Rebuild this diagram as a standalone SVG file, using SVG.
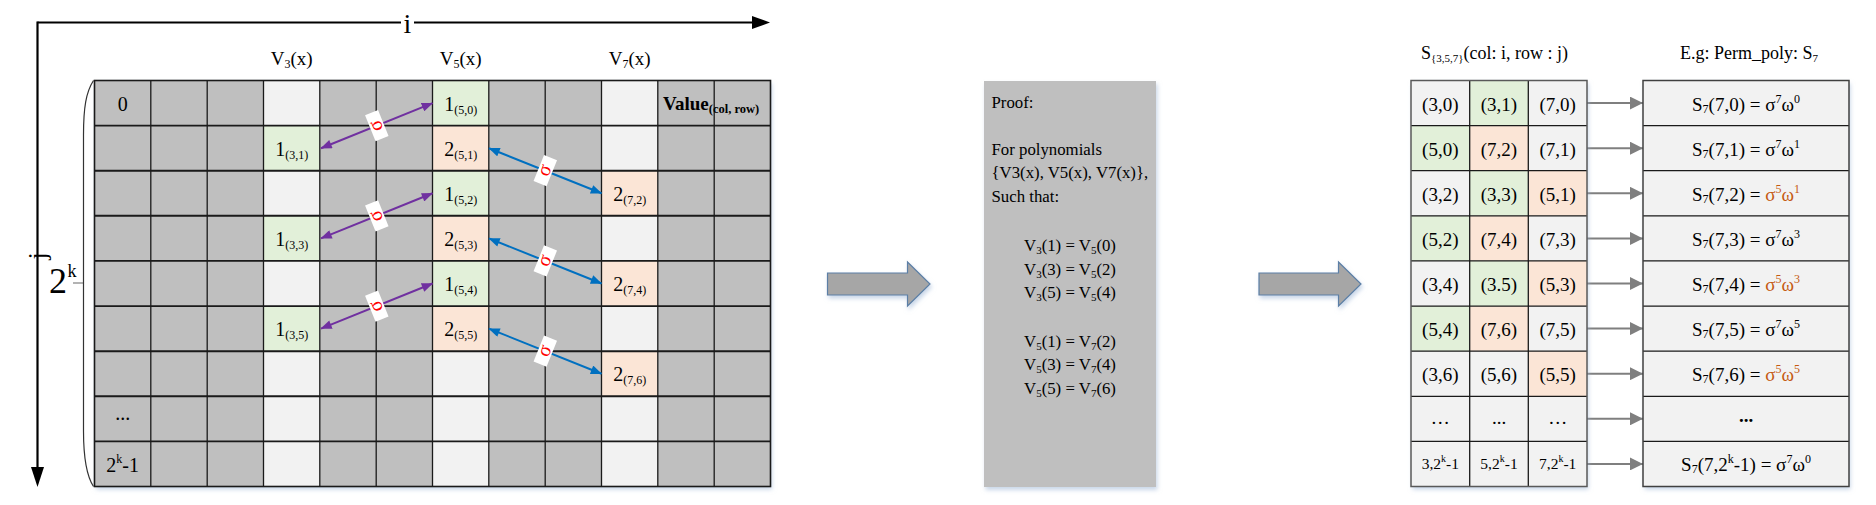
<svg xmlns="http://www.w3.org/2000/svg" width="1876" height="505" viewBox="0 0 1876 505">
<style>
text { font-family: "Liberation Serif", "Times New Roman", serif; fill: #000; }
.gy { fill: #BFBFBF; }
.lt { fill: #F2F2F2; }
.gn { fill: #E2F0D9; }
.pc { fill: #FBE5D6; }
.c { font-size: 20px; text-anchor: middle; }
.hd { font-size: 19px; text-anchor: middle; }
.rt { font-size: 19px; text-anchor: middle; }
.sb { font-size: 12px; }
.sp { font-size: 12px; }
.pf { font-size: 16.8px; }
.sig { font-size: 20px; fill: #FF0000; text-anchor: middle; }
.lab { fill: #FFFFFF; }
.gl { fill: none; stroke: #1a1a1a; }
.or { fill: #C55A11; }
.pa { stroke: #7030A0; stroke-width: 2; fill: none; }
.ba { stroke: #0070C0; stroke-width: 2; fill: none; }
.ga { stroke: #7F7F7F; stroke-width: 2; fill: none; }
.blk { fill: #A6A6A6; stroke: #5B7FA6; stroke-width: 1.2; }
</style>
<defs>
<filter id="sh" x="-10%" y="-10%" width="130%" height="130%">
<feDropShadow dx="1.5" dy="3" stdDeviation="2" flood-color="#9DB6D6" flood-opacity="0.55"/>
</filter>
<marker id="mp" viewBox="0 0 10 8" markerWidth="12" markerHeight="9" refX="9.5" refY="4" orient="auto-start-reverse" markerUnits="userSpaceOnUse"><path d="M0,0 L10,4 L0,8 z" fill="#7030A0"/></marker>
<marker id="mb" viewBox="0 0 10 8" markerWidth="12" markerHeight="9" refX="9.5" refY="4" orient="auto-start-reverse" markerUnits="userSpaceOnUse"><path d="M0,0 L10,4 L0,8 z" fill="#0070C0"/></marker>
<marker id="mg" viewBox="0 0 10 10" markerWidth="14" markerHeight="13" refX="10" refY="5" orient="auto" markerUnits="userSpaceOnUse"><path d="M0,0 L10,5 L0,10 z" fill="#7F7F7F"/></marker>
</defs>

<g id="axes">
<line x1="37.5" y1="22.5" x2="754" y2="22.5" stroke="#000" stroke-width="2.2"/>
<polygon points="752,16 770,22.5 752,29" fill="#000"/>
<line x1="37.5" y1="21.4" x2="37.5" y2="468" stroke="#000" stroke-width="2.2"/>
<polygon points="31,467 37.5,487 44,467" fill="#000"/>
<rect x="401" y="10" width="13" height="24" fill="#FFFFFF"/>
<text x="407.5" y="33" font-size="28" text-anchor="middle">i</text>
<text transform="translate(46,256) rotate(-90)" font-size="26" text-anchor="middle">j</text>
<text x="49" y="293" font-size="36">2</text>
<text x="67.5" y="277" font-size="18">k</text>
<line x1="73" y1="283" x2="83" y2="283" stroke="#808080" stroke-width="1.2"/>
<path d="M93.5,80.5 C86,92 83.5,108 83.5,135 L83.5,431 C83.5,458 86,475 93.5,486.5" fill="none" stroke="#333" stroke-width="1.2"/>
</g>

<g id="headers">
<text class="hd" x="291.7" y="65">V<tspan class="sb" dy="3">3</tspan><tspan dy="-3">(x)</tspan></text>
<text class="hd" x="460.7" y="65">V<tspan class="sb" dy="3">5</tspan><tspan dy="-3">(x)</tspan></text>
<text class="hd" x="629.7" y="65">V<tspan class="sb" dy="3">7</tspan><tspan dy="-3">(x)</tspan></text>
</g>

<g id="grid">
<rect class="gy" x="94.5" y="80.5" width="676" height="406" filter="url(#sh)"/>
<rect class="lt" x="263.5" y="80.5" width="56.3" height="406"/>
<rect class="lt" x="432.5" y="80.5" width="56.3" height="406"/>
<rect class="lt" x="601.5" y="80.5" width="56.3" height="406"/>
<rect class="gn" x="263.5" y="125.6" width="56.3" height="45.1"/>
<rect class="gn" x="263.5" y="215.8" width="56.3" height="45.1"/>
<rect class="gn" x="263.5" y="306.1" width="56.3" height="45.1"/>
<rect class="gn" x="432.5" y="80.5" width="56.3" height="45.1"/>
<rect class="gn" x="432.5" y="170.7" width="56.3" height="45.1"/>
<rect class="gn" x="432.5" y="260.9" width="56.3" height="45.1"/>
<rect class="pc" x="432.5" y="125.6" width="56.3" height="45.1"/>
<rect class="pc" x="432.5" y="215.8" width="56.3" height="45.1"/>
<rect class="pc" x="432.5" y="306.1" width="56.3" height="45.1"/>
<rect class="pc" x="601.5" y="170.7" width="56.3" height="45.1"/>
<rect class="pc" x="601.5" y="260.9" width="56.3" height="45.1"/>
<rect class="pc" x="601.5" y="351.2" width="56.3" height="45.1"/>
<path class="gl" stroke-width="1.3" d="M150.8,80.5V486.5M207.2,80.5V486.5M263.5,80.5V486.5M319.8,80.5V486.5M376.2,80.5V486.5M432.5,80.5V486.5M488.8,80.5V486.5M545.2,80.5V486.5M601.5,80.5V486.5M657.8,80.5V486.5M714.2,80.5V486.5"/>
<path class="gl" stroke-width="1.9" d="M94.5,125.6H770.5M94.5,170.7H770.5M94.5,215.8H770.5M94.5,260.9H770.5M94.5,306.1H770.5M94.5,351.2H770.5M94.5,396.3H770.5M94.5,441.4H770.5"/>
<rect class="gl" stroke-width="1.6" x="94.5" y="80.5" width="676" height="406"/>
<text class="c" x="122.7" y="110.5">0</text>
<text class="c" x="122.7" y="420">...</text>
<text class="c" x="122.7" y="471.5">2<tspan class="sp" dy="-9">k</tspan><tspan dy="9">-1</tspan></text>
<text x="663" y="110" font-size="19" font-weight="bold">Value<tspan font-size="12.5" dy="3">(col, row)</tspan></text>
<text class="c" x="460.7" y="110.5">1<tspan class="sb" dy="3">(5,0)</tspan></text>
<text class="c" x="291.7" y="155.7">1<tspan class="sb" dy="3">(3,1)</tspan></text>
<text class="c" x="460.7" y="155.7">2<tspan class="sb" dy="3">(5,1)</tspan></text>
<text class="c" x="460.7" y="200.8">1<tspan class="sb" dy="3">(5,2)</tspan></text>
<text class="c" x="629.7" y="200.8">2<tspan class="sb" dy="3">(7,2)</tspan></text>
<text class="c" x="291.7" y="245.9">1<tspan class="sb" dy="3">(3,3)</tspan></text>
<text class="c" x="460.7" y="245.9">2<tspan class="sb" dy="3">(5,3)</tspan></text>
<text class="c" x="460.7" y="291">1<tspan class="sb" dy="3">(5,4)</tspan></text>
<text class="c" x="629.7" y="291">2<tspan class="sb" dy="3">(7,4)</tspan></text>
<text class="c" x="291.7" y="336.1">1<tspan class="sb" dy="3">(3,5)</tspan></text>
<text class="c" x="460.7" y="336.1">2<tspan class="sb" dy="3">(5,5)</tspan></text>
<text class="c" x="629.7" y="381.2">2<tspan class="sb" dy="3">(7,6)</tspan></text>
</g>

<g id="connectors">
<line class="pa" x1="321" y1="148.2" x2="432.5" y2="103.1" marker-start="url(#mp)" marker-end="url(#mp)"/>
<line class="pa" x1="321" y1="238.4" x2="432.5" y2="193.3" marker-start="url(#mp)" marker-end="url(#mp)"/>
<line class="pa" x1="321" y1="328.6" x2="432.5" y2="283.5" marker-start="url(#mp)" marker-end="url(#mp)"/>
<line class="ba" x1="489" y1="148.2" x2="601.5" y2="193.3" marker-start="url(#mb)" marker-end="url(#mb)"/>
<line class="ba" x1="489" y1="238.4" x2="601.5" y2="283.5" marker-start="url(#mb)" marker-end="url(#mb)"/>
<line class="ba" x1="489" y1="328.6" x2="601.5" y2="373.7" marker-start="url(#mb)" marker-end="url(#mb)"/>
<g transform="translate(376.8,125.6) rotate(-22)"><rect class="lab" x="-7" y="-14" width="14" height="28"/><text class="sig" transform="rotate(-90)" y="5">σ</text></g>
<g transform="translate(376.8,215.8) rotate(-22)"><rect class="lab" x="-7" y="-14" width="14" height="28"/><text class="sig" transform="rotate(-90)" y="5">σ</text></g>
<g transform="translate(376.8,306.1) rotate(-22)"><rect class="lab" x="-7" y="-14" width="14" height="28"/><text class="sig" transform="rotate(-90)" y="5">σ</text></g>
<g transform="translate(545.3,170.7) rotate(22)"><rect class="lab" x="-7" y="-14" width="14" height="28"/><text class="sig" transform="rotate(-90)" y="5">σ</text></g>
<g transform="translate(545.3,260.9) rotate(22)"><rect class="lab" x="-7" y="-14" width="14" height="28"/><text class="sig" transform="rotate(-90)" y="5">σ</text></g>
<g transform="translate(545.3,351.1) rotate(22)"><rect class="lab" x="-7" y="-14" width="14" height="28"/><text class="sig" transform="rotate(-90)" y="5">σ</text></g>
<line class="ga" x1="1587" y1="103.1" x2="1643" y2="103.1" marker-end="url(#mg)"/>
<line class="ga" x1="1587" y1="148.2" x2="1643" y2="148.2" marker-end="url(#mg)"/>
<line class="ga" x1="1587" y1="193.3" x2="1643" y2="193.3" marker-end="url(#mg)"/>
<line class="ga" x1="1587" y1="238.4" x2="1643" y2="238.4" marker-end="url(#mg)"/>
<line class="ga" x1="1587" y1="283.5" x2="1643" y2="283.5" marker-end="url(#mg)"/>
<line class="ga" x1="1587" y1="328.6" x2="1643" y2="328.6" marker-end="url(#mg)"/>
<line class="ga" x1="1587" y1="373.7" x2="1643" y2="373.7" marker-end="url(#mg)"/>
<line class="ga" x1="1587" y1="418.8" x2="1643" y2="418.8" marker-end="url(#mg)"/>
<line class="ga" x1="1587" y1="463.9" x2="1643" y2="463.9" marker-end="url(#mg)"/>
</g>

<g id="arrow1">
<polygon class="blk" filter="url(#sh)" points="827.5,273 907.5,273 907.5,262 930,284 907.5,306 907.5,295 827.5,295"/>
</g>
<g id="arrow2">
<polygon class="blk" filter="url(#sh)" points="1259,273 1338.5,273 1338.5,262 1361,284 1338.5,306 1338.5,295 1259,295"/>
</g>

<g id="proof">
<rect class="gy" x="984" y="81" width="172" height="406" filter="url(#sh)"/>
<text class="pf" x="991.5" y="107.5">Proof:</text>
<text class="pf" x="991.5" y="154.5">For polynomials</text>
<text class="pf" x="991.5" y="178">{V3(x), V5(x), V7(x)},</text>
<text class="pf" x="991.5" y="201.5">Such that:</text>
<text class="pf" x="1070" y="251" text-anchor="middle">V<tspan font-size="11" dy="3">3</tspan><tspan dy="-3">(1) = V</tspan><tspan font-size="11" dy="3">5</tspan><tspan dy="-3">(0)</tspan></text>
<text class="pf" x="1070" y="274.5" text-anchor="middle">V<tspan font-size="11" dy="3">3</tspan><tspan dy="-3">(3) = V</tspan><tspan font-size="11" dy="3">5</tspan><tspan dy="-3">(2)</tspan></text>
<text class="pf" x="1070" y="298" text-anchor="middle">V<tspan font-size="11" dy="3">3</tspan><tspan dy="-3">(5) = V</tspan><tspan font-size="11" dy="3">5</tspan><tspan dy="-3">(4)</tspan></text>
<text class="pf" x="1070" y="346.5" text-anchor="middle">V<tspan font-size="11" dy="3">5</tspan><tspan dy="-3">(1) = V</tspan><tspan font-size="11" dy="3">7</tspan><tspan dy="-3">(2)</tspan></text>
<text class="pf" x="1070" y="370" text-anchor="middle">V<tspan font-size="11" dy="3">5</tspan><tspan dy="-3">(3) = V</tspan><tspan font-size="11" dy="3">7</tspan><tspan dy="-3">(4)</tspan></text>
<text class="pf" x="1070" y="393.5" text-anchor="middle">V<tspan font-size="11" dy="3">5</tspan><tspan dy="-3">(5) = V</tspan><tspan font-size="11" dy="3">7</tspan><tspan dy="-3">(6)</tspan></text>
</g>

<g id="stable">
<text x="1421" y="59" font-size="18">S<tspan font-size="11" dy="3">{3,5,7}</tspan><tspan dy="-3">(col: i, row : j)</tspan></text>
<rect class="lt" x="1411" y="80.5" width="176" height="406" filter="url(#sh)"/>
<rect class="gn" x="1469.7" y="80.5" width="58.6" height="45.1"/>
<rect class="gn" x="1411" y="125.6" width="58.7" height="45.1"/>
<rect class="pc" x="1469.7" y="125.6" width="58.6" height="45.1"/>
<rect class="gn" x="1469.7" y="170.7" width="58.6" height="45.1"/>
<rect class="pc" x="1528.3" y="170.7" width="58.7" height="45.1"/>
<rect class="gn" x="1411" y="215.8" width="58.7" height="45.1"/>
<rect class="pc" x="1469.7" y="215.8" width="58.6" height="45.1"/>
<rect class="gn" x="1469.7" y="260.9" width="58.6" height="45.1"/>
<rect class="pc" x="1528.3" y="260.9" width="58.7" height="45.1"/>
<rect class="gn" x="1411" y="306.1" width="58.7" height="45.1"/>
<rect class="pc" x="1469.7" y="306.1" width="58.6" height="45.1"/>
<rect class="pc" x="1528.3" y="351.2" width="58.7" height="45.1"/>
<path class="gl" stroke-width="1.3" d="M1469.7,80.5V486.5M1528.3,80.5V486.5M1411,125.6H1587M1411,170.7H1587M1411,215.8H1587M1411,260.9H1587M1411,306.1H1587M1411,351.2H1587M1411,396.3H1587M1411,441.4H1587"/>
<rect x="1411" y="80.5" width="176" height="406" fill="none" stroke="#595959" stroke-width="1.5"/>
<text class="rt" x="1440.3" y="110.5">(3,0)</text><text class="rt" x="1499" y="110.5">(3,1)</text><text class="rt" x="1557.7" y="110.5">(7,0)</text>
<text class="rt" x="1440.3" y="155.6">(5,0)</text><text class="rt" x="1499" y="155.6">(7,2)</text><text class="rt" x="1557.7" y="155.6">(7,1)</text>
<text class="rt" x="1440.3" y="200.7">(3,2)</text><text class="rt" x="1499" y="200.7">(3,3)</text><text class="rt" x="1557.7" y="200.7">(5,1)</text>
<text class="rt" x="1440.3" y="245.8">(5,2)</text><text class="rt" x="1499" y="245.8">(7,4)</text><text class="rt" x="1557.7" y="245.8">(7,3)</text>
<text class="rt" x="1440.3" y="290.9">(3,4)</text><text class="rt" x="1499" y="290.9">(3.5)</text><text class="rt" x="1557.7" y="290.9">(5,3)</text>
<text class="rt" x="1440.3" y="336">(5,4)</text><text class="rt" x="1499" y="336">(7,6)</text><text class="rt" x="1557.7" y="336">(7,5)</text>
<text class="rt" x="1440.3" y="381.1">(3,6)</text><text class="rt" x="1499" y="381.1">(5,6)</text><text class="rt" x="1557.7" y="381.1">(5,5)</text>
<text class="rt" x="1440.3" y="424">…</text><text class="rt" x="1499" y="424">...</text><text class="rt" x="1557.7" y="424">…</text>
<text x="1440.3" y="469" font-size="15.5" text-anchor="middle">3,2<tspan font-size="10" dy="-7">k</tspan><tspan dy="7">-1</tspan></text>
<text x="1499" y="469" font-size="15.5" text-anchor="middle">5,2<tspan font-size="10" dy="-7">k</tspan><tspan dy="7">-1</tspan></text>
<text x="1557.7" y="469" font-size="15.5" text-anchor="middle">7,2<tspan font-size="10" dy="-7">k</tspan><tspan dy="7">-1</tspan></text>
</g>

<g id="ptable">
<text x="1680" y="59" font-size="18">E.g: Perm_poly: S<tspan font-size="11" dy="3">7</tspan></text>
<rect class="lt" x="1643" y="80.5" width="206" height="406" filter="url(#sh)"/>
<path class="gl" stroke-width="1.3" d="M1643,125.6H1849M1643,170.7H1849M1643,215.8H1849M1643,260.9H1849M1643,306.1H1849M1643,351.2H1849M1643,396.3H1849M1643,441.4H1849"/>
<rect x="1643" y="80.5" width="206" height="406" fill="none" stroke="#404040" stroke-width="1.5"/>
<text class="rt" x="1746" y="110.5">S<tspan class="sb" dy="2">7</tspan><tspan dy="-2">(7,0) = σ</tspan><tspan class="sp" dy="-8">7</tspan><tspan dy="8">ω</tspan><tspan class="sp" dy="-8">0</tspan></text>
<text class="rt" x="1746" y="155.6">S<tspan class="sb" dy="2">7</tspan><tspan dy="-2">(7,1) = σ</tspan><tspan class="sp" dy="-8">7</tspan><tspan dy="8">ω</tspan><tspan class="sp" dy="-8">1</tspan></text>
<text class="rt" x="1746" y="200.7">S<tspan class="sb" dy="2">7</tspan><tspan dy="-2">(7,2) = </tspan><tspan class="or">σ</tspan><tspan class="sp or" dy="-8">5</tspan><tspan class="or" dy="8">ω</tspan><tspan class="sp or" dy="-8">1</tspan></text>
<text class="rt" x="1746" y="245.8">S<tspan class="sb" dy="2">7</tspan><tspan dy="-2">(7,3) = σ</tspan><tspan class="sp" dy="-8">7</tspan><tspan dy="8">ω</tspan><tspan class="sp" dy="-8">3</tspan></text>
<text class="rt" x="1746" y="290.9">S<tspan class="sb" dy="2">7</tspan><tspan dy="-2">(7,4) = </tspan><tspan class="or">σ</tspan><tspan class="sp or" dy="-8">5</tspan><tspan class="or" dy="8">ω</tspan><tspan class="sp or" dy="-8">3</tspan></text>
<text class="rt" x="1746" y="336">S<tspan class="sb" dy="2">7</tspan><tspan dy="-2">(7,5) = σ</tspan><tspan class="sp" dy="-8">7</tspan><tspan dy="8">ω</tspan><tspan class="sp" dy="-8">5</tspan></text>
<text class="rt" x="1746" y="381.1">S<tspan class="sb" dy="2">7</tspan><tspan dy="-2">(7,6) = </tspan><tspan class="or">σ</tspan><tspan class="sp or" dy="-8">5</tspan><tspan class="or" dy="8">ω</tspan><tspan class="sp or" dy="-8">5</tspan></text>
<text class="rt" x="1746" y="422" font-weight="bold">...</text>
<text class="rt" x="1746" y="471">S<tspan class="sb" dy="2">7</tspan><tspan dy="-2">(7,2</tspan><tspan class="sp" dy="-8">k</tspan><tspan dy="8">-1) = σ</tspan><tspan class="sp" dy="-8">7</tspan><tspan dy="8">ω</tspan><tspan class="sp" dy="-8">0</tspan></text>
</g>
</svg>
